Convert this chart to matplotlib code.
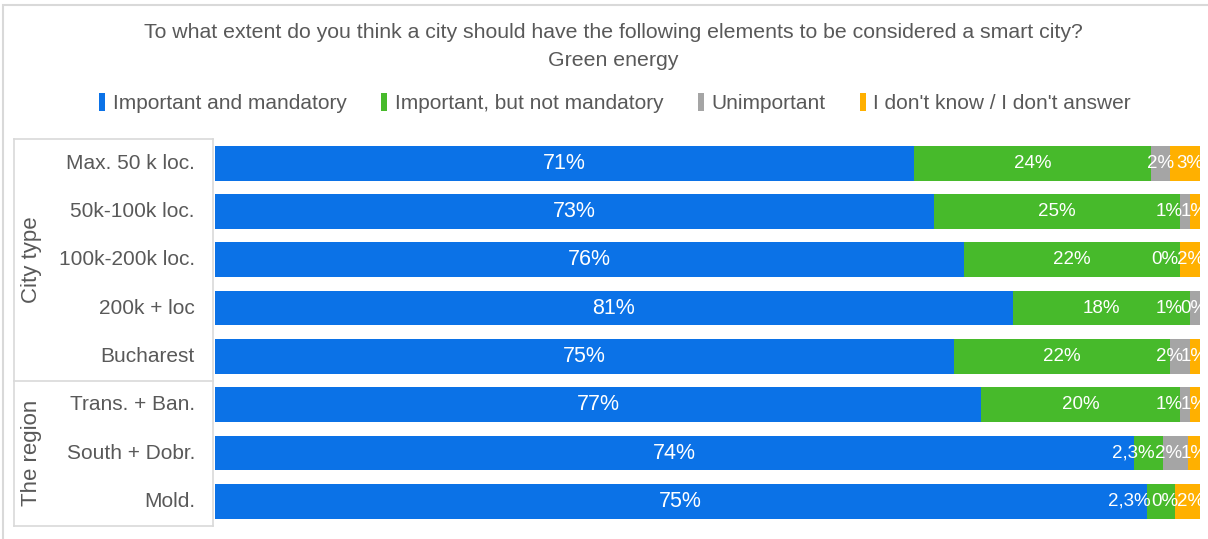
import matplotlib.pyplot as plt
from matplotlib.patches import Patch, Rectangle
from matplotlib.lines import Line2D

plt.rcParams['font.family'] = ['Liberation Sans', 'DejaVu Sans']

# Données
categories = ['Max. 50 k loc.', '50k-100k loc.', '100k-200k loc.', '200k + loc',
              'Bucharest', 'Trans. + Ban.', 'South + Dobr.', 'Mold.']
groups = ['City type', 'The region']
group_sizes = [5, 3]
series_names = ['Important and mandatory', 'Important, but not mandatory',
                'Unimportant', "I don't know / I don't answer"]
mandatory = [71, 73, 76, 81, 75, 77, 74, 75]
not_mandatory = [24, 25, 22, 18, 22, 20, 2.3, 2.3]
unimportant = [2, 1, 0, 1, 2, 1, 2, 0]
dont_know = [3, 1, 2, 0, 1, 1, 1, 2]

colors = ['#0b72e7', '#47ba2b', '#a5a5a5', '#ffb000']
grey_txt = '#595959'
frame_col = '#d9d9d9'

W, H = 1208, 539


def fx(px):
    return px / W


def fy(py):
    return 1 - py / H


def fmt(v):
    if float(v).is_integer():
        return f"{int(v)}%"
    return f"{v}%".replace('.', ',')


fig = plt.figure(figsize=(W / 100, H / 100), dpi=100)

# cadre extérieur
fig.patches.append(Rectangle((fx(3), fy(H + 5)), 1.1, fy(5) - fy(H + 5), transform=fig.transFigure,
                             fill=False, edgecolor=frame_col, lw=1.5))

# titre
fig.text(fx(613), fy(33), 'To what extent do you think a city should have the following elements to be considered a smart city?',
         ha='center', va='center', fontsize=15.3, color=grey_txt)
fig.text(fx(613), fy(61), 'Green energy', ha='center', va='center', fontsize=15.3, color=grey_txt)

ax = fig.add_axes([fx(215), fy(525.5), fx(1200) - fx(215), fy(139) - fy(525.5)])

series = [mandatory, not_mandatory, unimportant, dont_know]
n = len(categories)
ypos = list(range(n))
totals = [sum(s[i] for s in series) for i in range(n)]
bar_h = 0.72

left = [0.0] * n
segs = []
for k, s in enumerate(series):
    widths = [s[i] / totals[i] * 100 for i in range(n)]
    ax.barh(ypos, widths, left=left, height=bar_h, color=colors[k], edgecolor='none')
    segs.append([(left[i], widths[i]) for i in range(n)])
    left = [left[i] + widths[i] for i in range(n)]

ax.set_xlim(0, 100)
ax.set_ylim(n - 0.5, -0.5)
ax.axis('off')

# étiquettes de données
px_per_unit = (1200 - 215) / 100
for i in range(n):
    # bleu au centre
    l0, w0 = segs[0][i]
    ax.text(l0 + w0 / 2, i, fmt(series[0][i]), ha='center', va='center', color='white', fontsize=15.5)
    # petites valeurs: de droite à gauche pour éviter les chevauchements
    prev_left = None
    for k in [3, 2, 1]:
        lk, wk = segs[k][i]
        txt = fmt(series[k][i])
        half = (len(txt) * 10.5 + 4) / 2 / px_per_unit
        xc = lk + wk / 2
        if k == 3:
            xc = min(max(xc, 99.0), 99.4)
        elif prev_left is not None:
            xc = min(xc, prev_left - half)
        if k == 1 and wk * px_per_unit < 2 * half:
            # trop étroit: étiquette à la fin du bleu
            ax.text(lk - 0.6, i, txt, ha='right', va='center', color='white', fontsize=13.5)
            if series[2][i] == 0:
                ax.add_line(Line2D([lk - 0.5, lk + 0.1, lk + wk * 0.55], [i, i, i + bar_h / 2],
                                   color='#b0b0b0', lw=1.2, zorder=5))
            continue
        ax.text(xc, i, txt, ha='center', va='center', color='white', fontsize=13.5)
        prev_left = xc - half

# légende
handles = [Patch(facecolor=c, edgecolor='none') for c in colors]
fig.legend(handles, series_names, loc='center', bbox_to_anchor=(fx(615), fy(103)), ncol=4,
           frameon=False, fontsize=15, labelcolor=grey_txt, handlelength=0.3, handleheight=1.0,
           handletextpad=0.35, columnspacing=1.65)

# tableau des catégories à gauche
row_px = (525.5 - 139) / n
tl, tr, tt, tb = 14, 213, 139, 526
fig.add_artist(Line2D([fx(tl), fx(tr)], [fy(tt), fy(tt)], color=frame_col, lw=1.2))
fig.add_artist(Line2D([fx(tl), fx(tr)], [fy(tb), fy(tb)], color=frame_col, lw=1.2))
fig.add_artist(Line2D([fx(tl), fx(tl)], [fy(tt), fy(tb)], color=frame_col, lw=1.2))
fig.add_artist(Line2D([fx(tr), fx(tr)], [fy(tt), fy(tb)], color=frame_col, lw=1.2))

for i, cat in enumerate(categories):
    fig.text(fx(195), fy(139 + (i + 0.5) * row_px), cat, ha='right', va='center',
             fontsize=15, color=grey_txt)

start = 0
for g, size in zip(groups, group_sizes):
    mid = 139 + (start + size / 2) * row_px
    fig.text(fx(31), fy(mid), g, rotation=90, ha='center', va='center', fontsize=16, color=grey_txt)
    start += size
    if start < n:
        yb = 139 + start * row_px
        fig.add_artist(Line2D([fx(tl), fx(tr)], [fy(yb), fy(yb)], color=frame_col, lw=1.2))

fig.savefig('out.png', dpi=100)
